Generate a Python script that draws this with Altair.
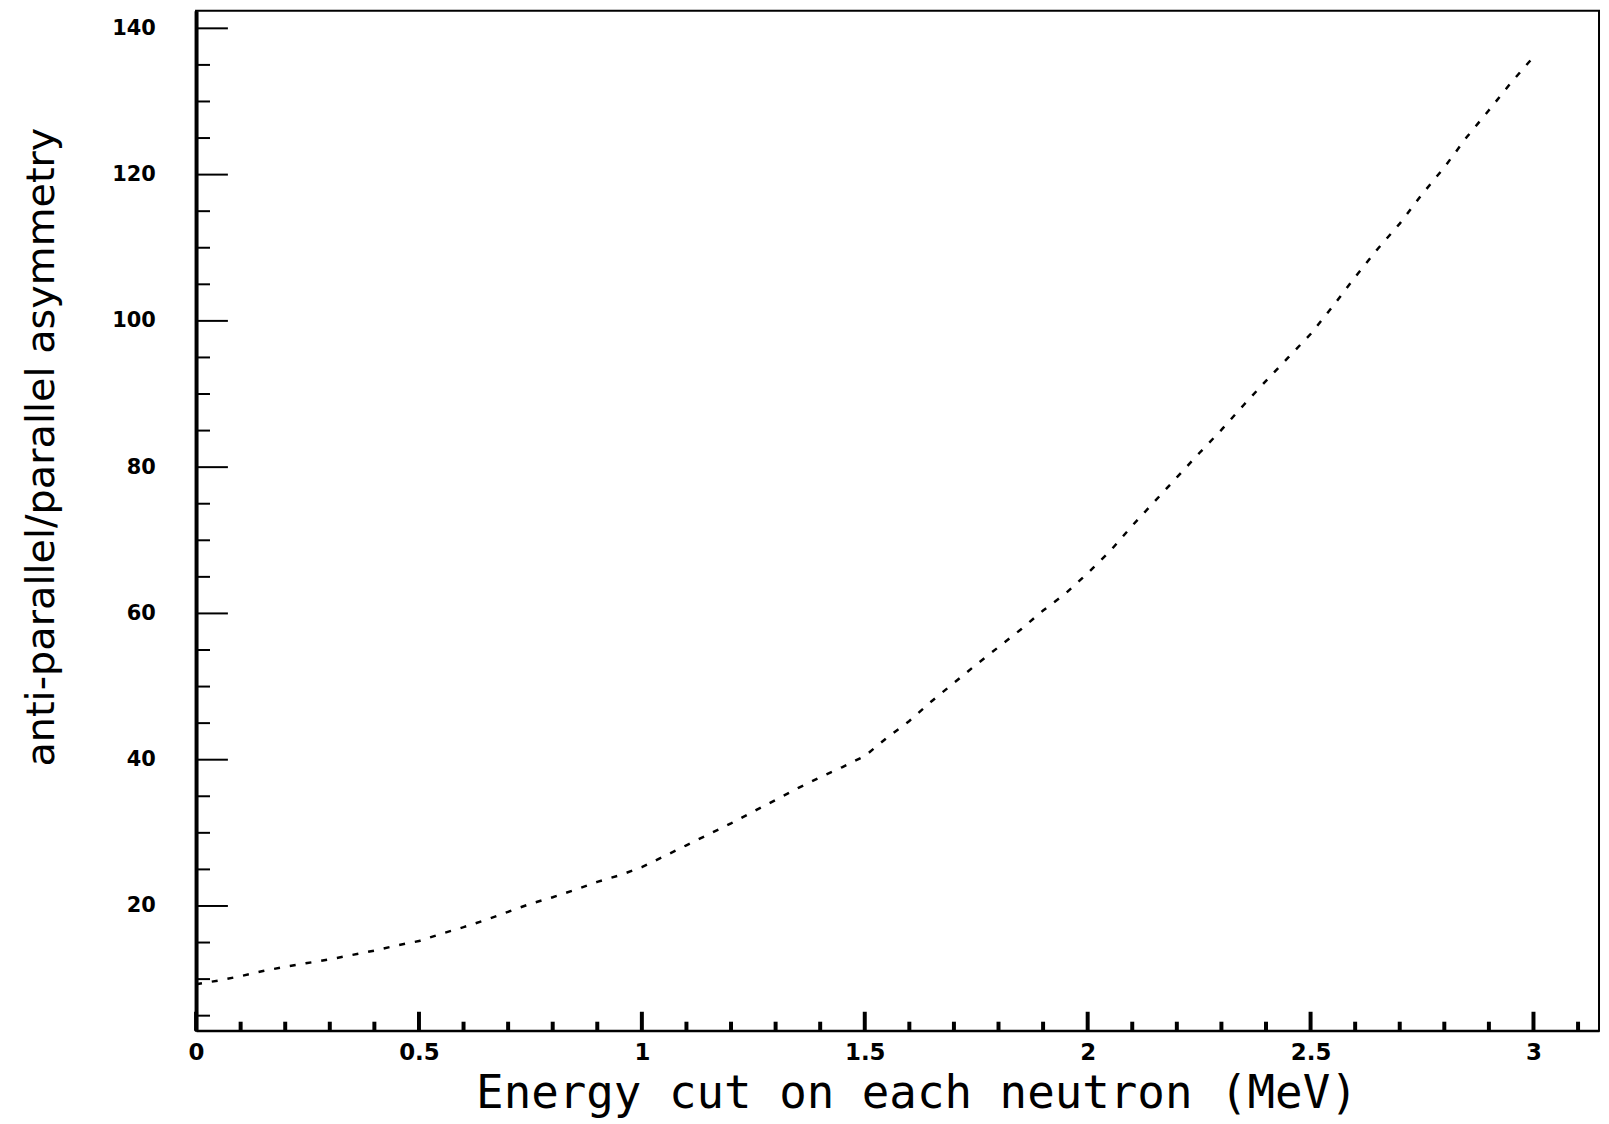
import altair as alt
import pandas as pd

# Curve data
energy = [0.0, 0.05, 0.1, 0.15, 0.2, 0.25, 0.3, 0.35, 0.4, 0.45, 0.5, 0.55, 0.6, 0.65,
          0.7, 0.75, 0.8, 0.85, 0.9, 0.95, 1.0, 1.05, 1.1, 1.15, 1.2, 1.25, 1.3, 1.35,
          1.4, 1.45, 1.5, 1.55, 1.6, 1.65, 1.7, 1.75, 1.8, 1.85, 1.9, 1.95, 2.0, 2.05,
          2.1, 2.15, 2.2, 2.25, 2.3, 2.35, 2.4, 2.45, 2.5, 2.55, 2.6, 2.65, 2.7, 2.75,
          2.8, 2.85, 2.9, 2.95, 3.0]
asymmetry = [9.3, 9.8, 10.4, 11.1, 11.7, 12.2, 12.7, 13.3, 13.9, 14.6, 15.2, 16.2, 17.1, 18.1,
             19.2, 20.3, 21.2, 22.2, 23.3, 24.2, 25.3, 26.8, 28.3, 29.8, 31.3, 32.9, 34.5, 36.1,
             37.6, 39.0, 40.5, 43.0, 45.3, 48.0, 50.5, 53.0, 55.4, 57.8, 60.4, 62.7, 65.5, 68.5,
             72.0, 75.3, 78.6, 81.9, 85.1, 88.5, 91.8, 95.0, 98.2, 102.0, 106.0, 109.8, 113.3, 117.3,
             121.0, 125.1, 128.8, 132.6, 136.1]

x_major = [0, 0.5, 1, 1.5, 2, 2.5, 3]
x_minor = [0.1, 0.2, 0.3, 0.4, 0.6, 0.7, 0.8, 0.9, 1.1, 1.2, 1.3, 1.4, 1.6, 1.7, 1.8, 1.9,
           2.1, 2.2, 2.3, 2.4, 2.6, 2.7, 2.8, 2.9, 3.1]
y_major = [20, 40, 60, 80, 100, 120, 140]
y_minor = [5, 10, 15, 25, 30, 35, 45, 50, 55, 65, 70, 75, 85, 90, 95, 105, 110, 115,
           125, 130, 135]

X_DOMAIN = [0, 3.147]
Y_DOMAIN = [2.95, 142.4]
W, H = 1410, 1025

df = pd.DataFrame({"e": energy, "a": asymmetry})
xs = alt.Scale(domain=X_DOMAIN, nice=False, zero=False)
ys = alt.Scale(domain=Y_DOMAIN, nice=False, zero=False)

xaxis = alt.Axis(
    values=x_major, format="~g", grid=False, ticks=False, tickSize=0, labelFlush=False,
    labelFont="DejaVu Sans", labelFontWeight="bold", labelFontSize=23,
    labelColor="black", labelPadding=11, domainColor="black", domainWidth=2,
    title="Energy cut on each neutron (MeV)", titleFont="DejaVu Sans Mono",
    titleFontWeight="normal", titleFontSize=46, titleColor="black",
    titleX=724, titleY=77, titleAlign="center", titleBaseline="alphabetic")
yaxis = alt.Axis(
    values=y_major, grid=False, ticks=False, tickSize=0, labelFlush=False,
    labelFont="DejaVu Sans", labelFontWeight="bold", labelFontSize=21,
    labelColor="black", labelPadding=41, domainColor="black", domainWidth=4,
    title="anti-parallel/parallel asymmetry", titleFont="DejaVu Sans",
    titleFontWeight="normal", titleFontSize=40, titleColor="black",
    titleAngle=270, titleX=-155, titleY=438, titleAlign="center",
    titleBaseline="middle")

curve = alt.Chart(df).mark_line(
    color="black", strokeWidth=2.5, strokeDash=[6, 10], interpolate="linear"
).encode(
    x=alt.X("e:Q", scale=xs, axis=xaxis),
    y=alt.Y("a:Q", scale=ys, axis=yaxis),
)

ymaj = alt.Chart(pd.DataFrame({"a": y_major})).mark_rule(color="black", strokeWidth=2).encode(
    y=alt.Y("a:Q", scale=ys, axis=yaxis), x=alt.value(0), x2=alt.value(32))
ymin = alt.Chart(pd.DataFrame({"a": y_minor})).mark_rule(color="black", strokeWidth=2).encode(
    y=alt.Y("a:Q", scale=ys, axis=yaxis), x=alt.value(0), x2=alt.value(14))
xmaj = alt.Chart(pd.DataFrame({"e": x_major})).mark_rule(color="black", strokeWidth=4).encode(
    x=alt.X("e:Q", scale=xs, axis=xaxis), y=alt.value(H), y2=alt.value(H - 19))
xmin = alt.Chart(pd.DataFrame({"e": x_minor})).mark_rule(color="black", strokeWidth=4).encode(
    x=alt.X("e:Q", scale=xs, axis=xaxis), y=alt.value(H), y2=alt.value(H - 9))

chart = alt.layer(curve, ymaj, ymin, xmaj, xmin).properties(
    width=W, height=H,
    padding={"left": 189, "top": 0, "right": 2, "bottom": 90},
    autosize=alt.AutoSizeParams(type="none"),
    background="white",
).configure_view(stroke="black", strokeWidth=2)

chart.save("out.html", embed_options={"renderer": "svg", "actions": False})
